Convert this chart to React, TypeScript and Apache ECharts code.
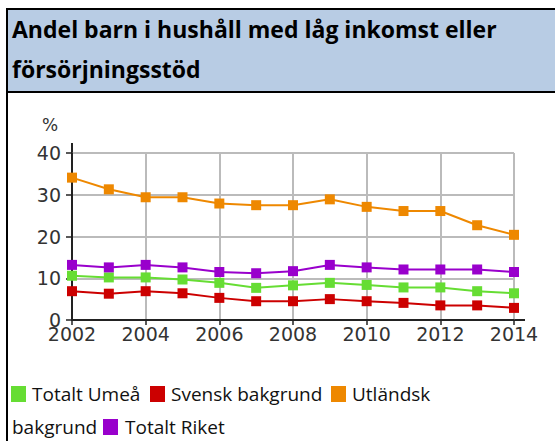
import React, { useEffect, useRef } from "react";
import * as echarts from "echarts";

const years = [2002, 2003, 2004, 2005, 2006, 2007, 2008, 2009, 2010, 2011, 2012, 2013, 2014];
const totaltUmea = [10.6, 10.2, 10.2, 9.7, 8.9, 7.7, 8.3, 8.9, 8.4, 7.8, 7.8, 6.9, 6.4];
const svenskBakgrund = [6.9, 6.3, 6.9, 6.4, 5.3, 4.5, 4.5, 5.0, 4.5, 4.1, 3.5, 3.5, 2.9];
const utlandskBakgrund = [34.1, 31.3, 29.4, 29.4, 27.9, 27.5, 27.5, 28.9, 27.1, 26.1, 26.1, 22.7, 20.4];
const totaltRiket = [13.2, 12.6, 13.2, 12.6, 11.5, 11.2, 11.7, 13.2, 12.6, 12.1, 12.1, 12.1, 11.5];

const seriesNames = ["Totalt Umeå", "Svensk bakgrund", "Utländsk bakgrund", "Totalt Riket"];
const seriesColors = ["#66dd33", "#cc0000", "#ee8800", "#9900cc"];
const seriesData = [totaltUmea, svenskBakgrund, utlandskBakgrund, totaltRiket];

const titleText = "Andel barn i hushåll med låg inkomst eller\nförsörjningsstöd";
const unitLabel = "%";

export default function App() {
  const ref = useRef<HTMLDivElement>(null);
  useEffect(() => {
    if (!ref.current) return;
    const chart = echarts.init(ref.current, undefined, { renderer: "svg" });
    const legendFont = "19px 'Open Sans', Lato, sans-serif";
    const legendItems: { x: number; y: number; color?: string; text?: string }[] = [
      { x: 11, y: 386, color: seriesColors[0] },
      { x: 32, y: 394, text: "Totalt Umeå" },
      { x: 150, y: 386, color: seriesColors[1] },
      { x: 171, y: 394, text: "Svensk bakgrund" },
      { x: 331, y: 386, color: seriesColors[2] },
      { x: 352, y: 394, text: "Utländsk" },
      { x: 12, y: 427, text: "bakgrund" },
      { x: 103, y: 419, color: seriesColors[3] },
      { x: 125, y: 427, text: "Totalt Riket" },
    ];
    const graphics: any[] = [
      { type: "rect", shape: { x: 6, y: 10, width: 560, height: 82 }, style: { fill: "#b8cce4" }, z: -10 },
      { type: "rect", shape: { x: 6, y: 8, width: 560, height: 2 }, style: { fill: "#000" } },
      { type: "rect", shape: { x: 6, y: 91, width: 560, height: 2 }, style: { fill: "#000" } },
      { type: "rect", shape: { x: 6, y: 8, width: 2, height: 440 }, style: { fill: "#000" } },
      { type: "line", shape: { x1: 72, y1: 143, x2: 72, y2: 154 }, style: { stroke: "#222", lineWidth: 2 } },
      { type: "line", shape: { x1: 513, y1: 320, x2: 525, y2: 320 }, style: { stroke: "#222", lineWidth: 2 } },
      { type: "text", x: 50, y: 125, style: { text: unitLabel, font: "17px 'DejaVu Sans'", fill: "#333", align: "center", verticalAlign: "middle" } },
    ];
    legendItems.forEach((it) => {
      if (it.color) {
        graphics.push({ type: "rect", shape: { x: it.x, y: it.y, width: 15, height: 16 }, style: { fill: it.color } });
      } else {
        graphics.push({ type: "text", x: it.x, y: it.y, style: { text: it.text, font: legendFont, fill: "#111", verticalAlign: "middle" } });
      }
    });
    chart.setOption({
      animation: false,
      title: {
        text: titleText,
        left: 7,
        top: 4,
        textStyle: { fontFamily: "'Open Sans', Lato, sans-serif", fontWeight: "bold", fontSize: 23, lineHeight: 40, color: "#000" },
      },
      grid: { left: 72, right: 41, top: 153, bottom: 121 },
      xAxis: {
        type: "value",
        min: 2002,
        max: 2014,
        interval: 2,
        axisLine: { show: true, lineStyle: { color: "#222", width: 2 } },
        axisTick: { show: true, length: 5, lineStyle: { color: "#222", width: 1.5 } },
        axisLabel: { margin: 7, lineHeight: 14, fontFamily: "'DejaVu Sans'", fontSize: 19, color: "#333", formatter: (v: number) => String(v) },
        splitLine: { show: true, lineStyle: { color: "#bbb", width: 2 } },
      },
      yAxis: {
        type: "value",
        min: 0,
        max: 40,
        interval: 10,
        axisLine: { show: true, lineStyle: { color: "#222", width: 2 } },
        axisTick: { show: true, length: 6, lineStyle: { color: "#222", width: 1.5 } },
        axisLabel: { margin: 11, lineHeight: 14, fontFamily: "'DejaVu Sans'", fontSize: 19, color: "#333" },
        splitLine: { show: true, lineStyle: { color: "#bbb", width: 2 } },
      },
      graphic: graphics,
      series: seriesData.map((d, i) => ({
        name: seriesNames[i],
        type: "line",
        data: d.map((v, j) => [years[j], v]),
        symbol: "rect",
        symbolSize: 10,
        lineStyle: { color: seriesColors[i], width: 2 },
        itemStyle: { color: seriesColors[i] },
        z: i === 2 ? 3 : 2,
      })),
    });
    return () => chart.dispose();
  }, []);
  return <div ref={ref} style={{ position: "absolute", left: 0, top: 0, width: 555, height: 441 }} />;
}
